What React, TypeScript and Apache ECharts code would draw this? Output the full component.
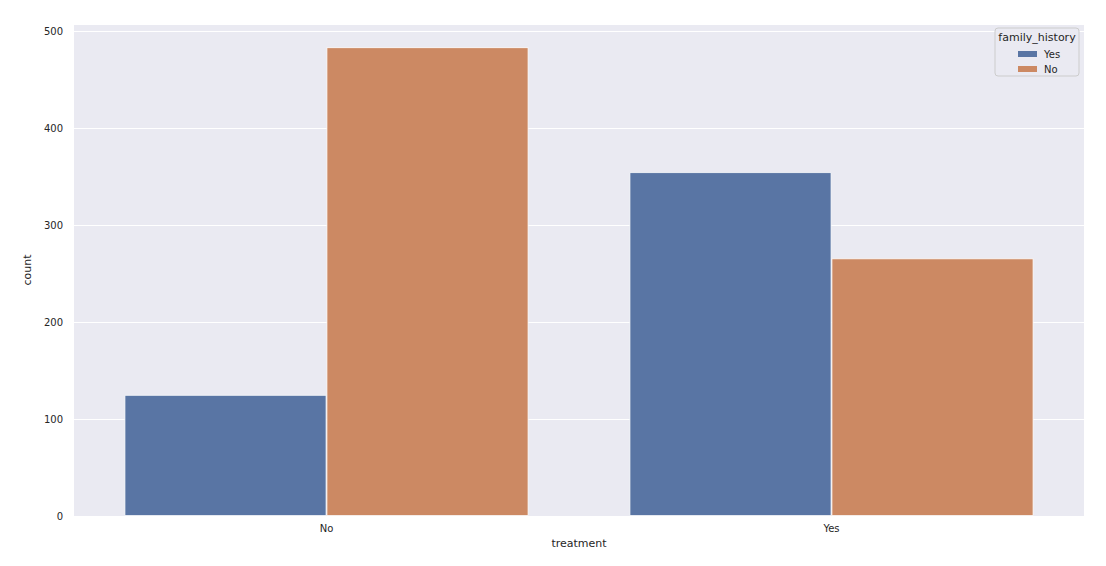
import React, { useEffect, useRef } from "react";
import * as echarts from "echarts";

const categories = ["No", "Yes"];
const seriesNames = ["Yes", "No"];
const yesValues = [125, 355];
const noValues = [484, 266];
const yTicks = [0, 100, 200, 300, 400, 500];

const FONT = "DejaVu Sans, sans-serif";

export default function App() {
  const ref = useRef<HTMLDivElement>(null);
  useEffect(() => {
    if (!ref.current) return;
    const chart = echarts.init(ref.current, undefined, { renderer: "svg" });
    chart.setOption({
      animation: false,
      backgroundColor: "#ffffff",
      textStyle: { fontFamily: FONT },
      grid: { left: 74, right: 22, top: 24, bottom: 50, backgroundColor: "#eaeaf2", show: true, borderWidth: 0 },
      xAxis: {
        type: "category",
        data: categories,
        name: "treatment",
        nameLocation: "middle",
        nameGap: 21,
        nameTextStyle: { fontSize: 11, color: "#262626", fontFamily: FONT },
        axisLine: { show: false },
        axisTick: { show: false },
        axisLabel: { fontSize: 10, color: "#262626", margin: 7, fontFamily: FONT },
        splitLine: { show: false },
      },
      yAxis: {
        type: "value",
        min: 0,
        max: 508,
        interval: 100,
        name: "count",
        nameLocation: "middle",
        nameGap: 34,
        nameRotate: 90,
        nameTextStyle: { fontSize: 11, color: "#262626", fontFamily: FONT, verticalAlign: "middle" },
        axisLine: { show: false },
        axisTick: { show: false },
        axisLabel: {
          fontSize: 10,
          color: "#262626",
          margin: 11,
          fontFamily: FONT,
          formatter: (v: number) => (yTicks.includes(v) ? String(v) : ""),
        },
        splitLine: { show: true, lineStyle: { color: "#ffffff", width: 1 } },
      },
      legend: {
        data: seriesNames,
        orient: "vertical",
        left: 1013,
        top: 44,
        itemWidth: 19,
        itemHeight: 6,
        itemGap: 5,
        icon: "rect",
        itemStyle: { borderWidth: 0 },
        textStyle: { fontSize: 10, color: "#262626", fontFamily: FONT, padding: [0, 0, 0, 2] },
        z: 10,
      },
      graphic: [
        {
          type: "rect",
          shape: { x: 995, y: 28, width: 84, height: 48, r: 3 },
          style: { fill: "#eaeaf2", stroke: "#cccccc", lineWidth: 1 },
          z: 5,
        },
        {
          type: "text",
          x: 1037,
          y: 37,
          style: {
            text: "family_history",
            fontSize: 11,
            fill: "#262626",
            fontFamily: FONT,
            align: "center",
            verticalAlign: "middle",
          },
          z: 6,
        },
      ],
      series: [
        {
          name: "Yes",
          type: "bar",
          data: yesValues,
          barGap: "0%",
          barCategoryGap: "20%",
          itemStyle: { color: "#5975a4", borderColor: "#ffffff", borderWidth: 0.8 },
        },
        {
          name: "No",
          type: "bar",
          data: noValues,
          barGap: "0%",
          barCategoryGap: "20%",
          itemStyle: { color: "#cc8963", borderColor: "#ffffff", borderWidth: 0.8 },
        },
      ],
    });
    return () => chart.dispose();
  }, []);
  return (
    <div
      ref={ref}
      style={{ position: "absolute", left: 0, top: 0, width: 1106, height: 566 }}
    />
  );
}
